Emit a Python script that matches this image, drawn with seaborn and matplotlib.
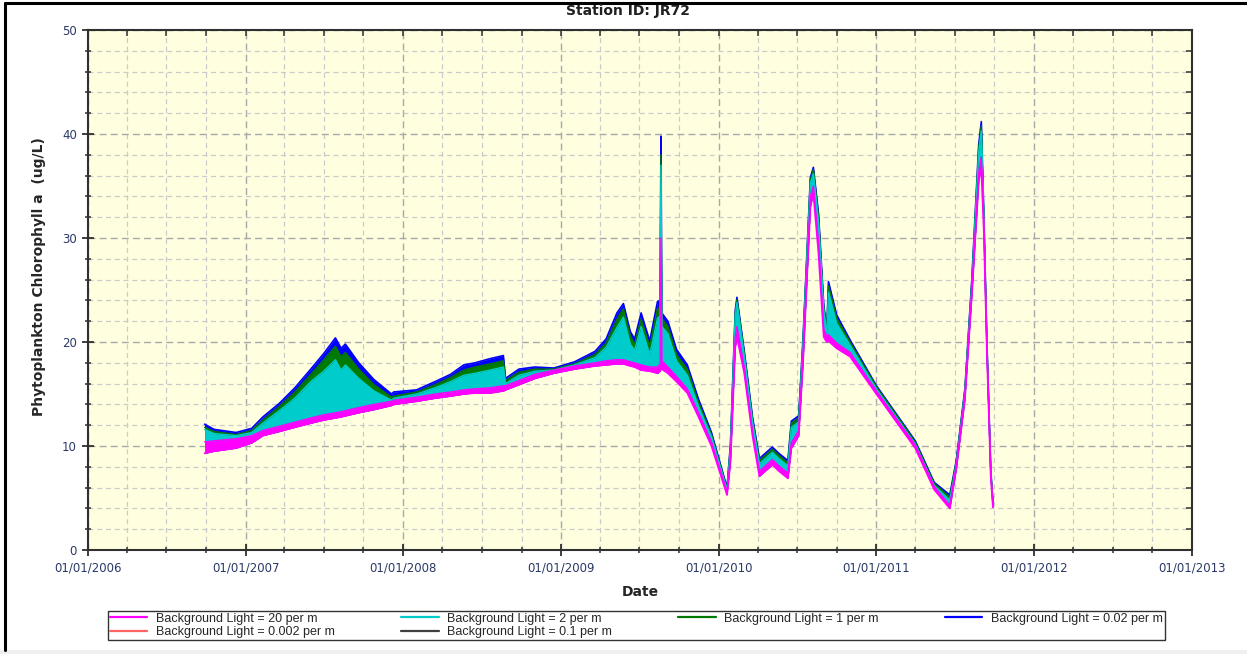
import matplotlib
matplotlib.use('Agg')
import matplotlib.pyplot as plt
import matplotlib.dates as mdates
from matplotlib.lines import Line2D
from matplotlib.patches import Rectangle
from matplotlib.ticker import MultipleLocator
import seaborn as sns
import pandas as pd

# chart values (ug/L)
dates = ['2006-09-28', '2006-10-20', '2006-12-10', '2007-01-15', '2007-02-10', '2007-03-20',
         '2007-04-25', '2007-06-01', '2007-07-01', '2007-07-28', '2007-08-10', '2007-08-20',
         '2007-09-20', '2007-10-25', '2007-12-05', '2007-12-10', '2008-02-01', '2008-03-15',
         '2008-04-20', '2008-05-20', '2008-06-15', '2008-07-20', '2008-08-20', '2008-08-25',
         '2008-09-25', '2008-11-01', '2008-12-15', '2009-02-01', '2009-03-20', '2009-04-15',
         '2009-05-10', '2009-05-25', '2009-06-10', '2009-06-20', '2009-07-05', '2009-07-25',
         '2009-08-12', '2009-08-18', '2009-08-20', '2009-08-22', '2009-09-05', '2009-09-25',
         '2009-10-20', '2009-11-15', '2009-12-15', '2010-01-20', '2010-01-28', '2010-02-08',
         '2010-02-12', '2010-03-01', '2010-03-20', '2010-04-05', '2010-05-05', '2010-05-20',
         '2010-06-10', '2010-06-18', '2010-07-05', '2010-07-15', '2010-08-01', '2010-08-08',
         '2010-08-20', '2010-09-01', '2010-09-08', '2010-09-12', '2010-10-01', '2010-11-01',
         '2011-01-01', '2011-04-01', '2011-05-15', '2011-06-20', '2011-07-05', '2011-07-25',
         '2011-08-10', '2011-08-26', '2011-09-01', '2011-09-07', '2011-09-14', '2011-09-23',
         '2011-09-28']

# 20 per m: daily low and high (it swings so much it draws as a band)
light_20_lo = [9.3, 9.5, 9.8, 10.3, 11.0, 11.4, 11.8, 12.2, 12.5, 12.7, 12.8, 12.9,
               13.2, 13.5, 13.9, 14.0, 14.3, 14.6, 14.8, 15.0, 15.1, 15.1, 15.3, 15.4,
               15.9, 16.5, 17.0, 17.4, 17.7, 17.8, 17.9, 17.9, 17.7, 17.6, 17.3, 17.2,
               17.0, 17.2, 17.5, 17.4, 17.0, 16.2, 15.1, 12.8, 10.0, 5.3, 8.5, 19.5,
               20.5, 17.0, 11.0, 7.1, 8.2, 7.6, 6.9, 9.8, 11.0, 18.0, 33.0, 34.3,
               28.5, 20.5, 20.0, 20.1, 19.4, 18.6, 15.0, 9.8, 5.8, 4.0, 7.8, 14.5,
               24.5, 35.5, 36.8, 30.5, 19.0, 7.0, 4.1]
light_20_hi = [10.4, 10.5, 10.7, 11.0, 11.5, 11.9, 12.3, 12.7, 13.0, 13.2, 13.3, 13.4,
               13.7, 14.0, 14.3, 14.4, 14.7, 15.0, 15.2, 15.4, 15.5, 15.6, 15.8, 15.8,
               16.3, 16.9, 17.3, 17.7, 18.0, 18.2, 18.3, 18.3, 18.1, 18.0, 17.8, 17.6,
               17.6, 17.9, 30.0, 18.2, 17.6, 16.7, 15.5, 13.2, 10.4, 5.6, 9.0, 20.5,
               21.5, 17.5, 11.4, 7.6, 8.7, 8.1, 7.4, 10.3, 11.5, 18.8, 34.0, 35.0,
               29.5, 21.2, 20.6, 20.7, 19.9, 19.0, 15.3, 10.1, 6.1, 4.3, 8.1, 14.9,
               25.0, 36.3, 37.8, 31.2, 19.4, 7.3, 4.3]
# daily highs of the other runs
light_2 = [11.6, 11.2, 11.0, 11.3, 12.2, 13.4, 14.6, 16.2, 17.2, 18.3, 17.3, 17.8,
           16.5, 15.3, 14.4, 14.6, 15.0, 15.6, 16.2, 16.8, 17.0, 17.3, 17.6, 16.0,
           16.8, 17.2, 17.3, 17.8, 18.5, 19.5, 21.4, 22.4, 19.8, 19.2, 21.5, 18.8,
           22.3, 22.5, 37.0, 21.5, 20.8, 18.2, 16.8, 13.8, 10.9, 5.8, 9.8, 22.5,
           23.8, 18.6, 12.3, 8.3, 9.4, 8.8, 8.1, 11.8, 12.3, 19.8, 35.3, 36.2,
           31.5, 23.0, 20.8, 24.8, 21.8, 19.7, 15.5, 10.2, 6.2, 4.8, 8.3, 15.2,
           25.5, 38.3, 40.3, 31.6, 19.6, 7.4, 4.4]
light_1 = [11.8, 11.4, 11.1, 11.5, 12.5, 13.8, 15.2, 16.9, 18.3, 19.6, 18.6, 19.0,
           17.4, 15.9, 14.7, 14.8, 15.2, 15.9, 16.6, 17.3, 17.6, 17.9, 18.2, 16.3,
           17.1, 17.4, 17.4, 17.9, 18.8, 19.9, 22.2, 23.2, 20.6, 19.8, 22.2, 19.6,
           23.2, 23.4, 38.0, 22.3, 21.5, 18.8, 17.4, 14.2, 11.1, 5.9, 10.0, 22.8,
           24.1, 18.9, 12.6, 8.6, 9.7, 9.1, 8.4, 12.2, 12.7, 20.1, 35.6, 36.6,
           32.0, 23.4, 21.0, 25.4, 22.3, 20.0, 15.7, 10.4, 6.4, 5.1, 8.5, 15.4,
           25.8, 38.7, 40.8, 31.8, 19.8, 7.5, 4.5]
light_002 = [12.1, 11.6, 11.3, 11.7, 12.8, 14.1, 15.6, 17.4, 18.9, 20.4, 19.4, 19.8,
             18.0, 16.4, 15.0, 15.2, 15.4, 16.2, 16.9, 17.8, 18.0, 18.4, 18.7, 16.5,
             17.4, 17.6, 17.5, 18.1, 19.1, 20.3, 22.8, 23.7, 21.0, 20.3, 22.8, 20.1,
             23.9, 24.0, 39.8, 22.8, 22.0, 19.3, 17.8, 14.5, 11.3, 6.0, 10.2, 23.0,
             24.3, 19.1, 12.8, 8.8, 9.9, 9.3, 8.6, 12.4, 12.9, 20.3, 35.8, 36.8,
             32.3, 23.6, 21.2, 25.8, 22.6, 20.2, 15.8, 10.5, 6.5, 5.3, 8.6, 15.5,
             26.0, 39.0, 41.2, 32.0, 19.9, 7.6, 4.6]

labels = ['Background Light = 20 per m', 'Background Light = 2 per m',
          'Background Light = 1 per m', 'Background Light = 0.02 per m',
          'Background Light = 0.002 per m', 'Background Light = 0.1 per m']
colors = ['#FF00FF', '#00CCCC', '#007A00', '#0000FF', '#FF6464', '#404040']

df = pd.DataFrame({'Date': pd.to_datetime(dates), 'lo20': light_20_lo, 'hi20': light_20_hi,
                   'l2': light_2, 'l1': light_1, 'l002': light_002})

sns.set_style('white')
plt.rcParams['font.family'] = ['DejaVu Sans']

fig = plt.figure(figsize=(12.47, 6.54), dpi=100)
ax = fig.add_axes([0.0706, 0.159, 0.8853, 0.795])
ax.set_facecolor('#FFFFE0')

# stacked bands, widest first
ax.fill_between(df['Date'], df['lo20'], df['l002'], color=colors[3], lw=0, zorder=2)
ax.fill_between(df['Date'], df['lo20'], df['l1'], color=colors[2], lw=0, zorder=3)
ax.fill_between(df['Date'], df['lo20'], df['l2'], color=colors[1], lw=0, zorder=4)
sns.lineplot(data=df, x='Date', y='l002', color=colors[3], lw=1.2, ax=ax, zorder=2)
sns.lineplot(data=df, x='Date', y='l1', color=colors[2], lw=1.0, ax=ax, zorder=3)
sns.lineplot(data=df, x='Date', y='l2', color=colors[1], lw=1.0, ax=ax, zorder=4)
ax.fill_between(df['Date'], df['lo20'], df['hi20'], color=colors[0], lw=0, zorder=5)
sns.lineplot(data=df, x='Date', y='lo20', color=colors[0], lw=1.3, ax=ax, zorder=5)
sns.lineplot(data=df, x='Date', y='hi20', color=colors[0], lw=1.0, ax=ax, zorder=5)

ax.set_xlim(pd.Timestamp('2006-01-01'), pd.Timestamp('2013-01-01'))
ax.set_ylim(0, 50)
ax.xaxis.set_major_locator(mdates.YearLocator())
ax.xaxis.set_major_formatter(mdates.DateFormatter('%m/%d/%Y'))
ax.xaxis.set_minor_locator(mdates.MonthLocator(bymonth=[4, 7, 10]))
ax.yaxis.set_major_locator(MultipleLocator(10))
ax.yaxis.set_minor_locator(MultipleLocator(2))

ax.grid(which='major', color='#A8A8A8', ls=(0, (5, 3)), lw=1.0, zorder=1)
ax.grid(which='minor', color='#CACACA', ls=(0, (4, 3)), lw=0.9, zorder=1)
ax.set_axisbelow(True)
for s in ax.spines.values():
    s.set_color('#303030')
    s.set_linewidth(1.5)
ax.tick_params(which='major', direction='inout', length=8, width=1.3, color='#303030',
               labelsize=8.5, labelcolor='#2A3866', pad=4)
ax.tick_params(which='minor', direction='inout', length=5, width=1.1, color='#303030')

ax.set_xlabel('Date', fontsize=10, fontweight='bold')
ax.set_ylabel('Phytoplankton Chlorophyll a  (ug/L)', fontsize=10, fontweight='bold')
ax.yaxis.set_label_coords(-0.0385, 0.525)
ax.xaxis.set_label_coords(0.5, -0.067)

# inward ticks on top and right
axr = ax.twinx()
axr.set_ylim(0, 50)
axr.yaxis.set_major_locator(MultipleLocator(10))
axr.yaxis.set_minor_locator(MultipleLocator(2))
axr.tick_params(which='both', direction='in', length=4, width=1.1, color='#303030', labelright=False)
axt = ax.twiny()
axt.set_xlim(ax.get_xlim())
axt.xaxis.set_major_locator(mdates.YearLocator())
axt.xaxis.set_minor_locator(mdates.MonthLocator(bymonth=[4, 7, 10]))
axt.tick_params(which='both', direction='in', length=4, width=1.1, color='#303030', labeltop=False)
for a in (axr, axt):
    for s in a.spines.values():
        s.set_visible(False)

# title sits half under the top edge of the frame, as in the source screenshot
fig.text(0.5036, 0.9835, 'Station ID: JR72', ha='center', va='center', fontsize=10,
         fontweight='bold', color='#202020')

# legend: row 1 = 20, 2, 1, 0.02; row 2 = 0.002, 0.1
order = [0, 4, 1, 5, 2, 3]
handles = [Line2D([], [], color=colors[i], lw=1.6) for i in order]
leg = fig.legend(handles, [labels[i] for i in order], ncol=4, loc='lower left',
                 bbox_to_anchor=(0.0866, 0.0215, 0.8476, 0.049), mode='expand',
                 frameon=True, fancybox=False, edgecolor='black', fontsize=9,
                 handlelength=3.0, handletextpad=0.7, borderpad=0.15, labelspacing=0.1,
                 borderaxespad=0)
leg.get_frame().set_linewidth(1.0)
for t in leg.get_texts():
    t.set_family(['Liberation Sans Narrow', 'Liberation Sans', 'DejaVu Sans'])

# screenshot border (left and top) and grey strip at the bottom
fig.patches.append(Rectangle((0, 0), 1, 0.006, transform=fig.transFigure,
                             facecolor='#EFEFEF', edgecolor='none', zorder=0))
fig.add_artist(Line2D([0.0044, 0.0044], [0.006, 0.9955], transform=fig.transFigure,
                      color='black', lw=2.2))
fig.add_artist(Line2D([0.0044, 1.0], [0.9955, 0.9955], transform=fig.transFigure,
                      color='black', lw=2.2))

fig.savefig('out.png', dpi=100)
